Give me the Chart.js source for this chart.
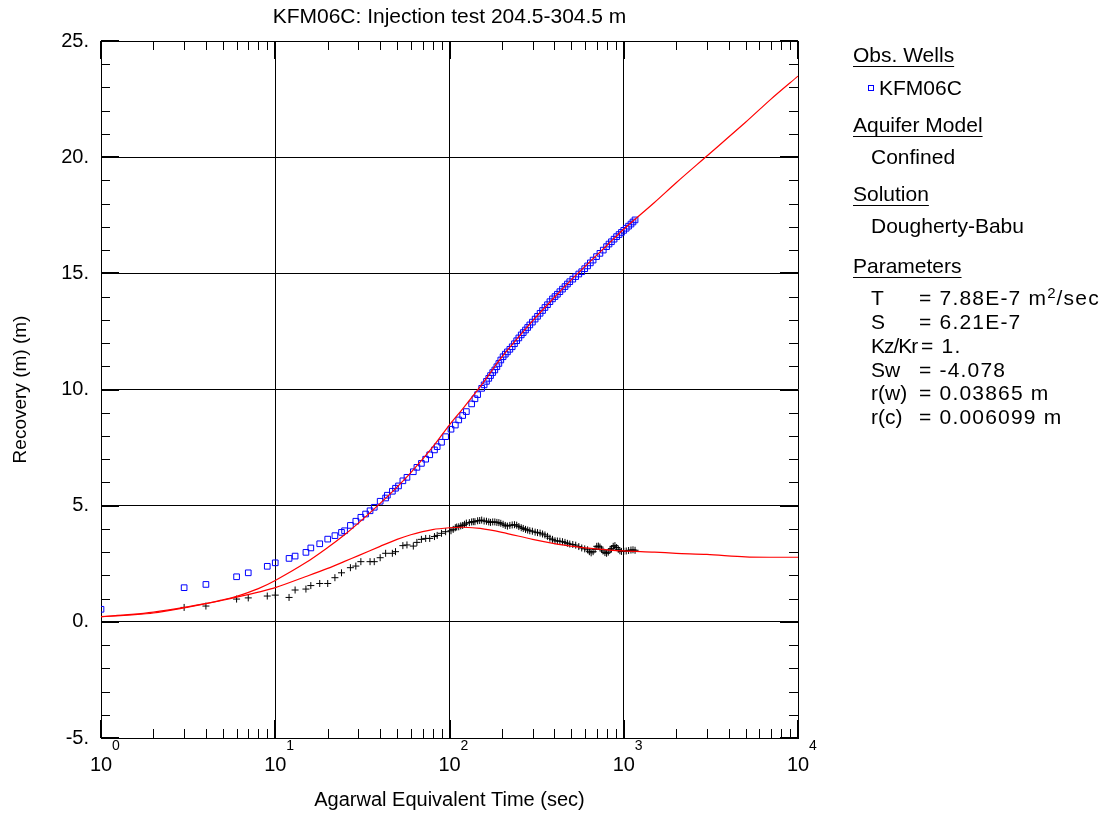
<!DOCTYPE html>
<html>
<head>
<meta charset="utf-8">
<script src="https://cdn.jsdelivr.net/npm/chart.js@4/dist/chart.umd.min.js"></script>
<style>
  body { margin: 0; background: #fff; }
  #wrap { position: relative; width: 1106px; height: 813px; }
  #legende { position: absolute; left: 853px; top: 0; width: 253px; height: 440px;
             font-family: "Liberation Sans", Arial, sans-serif; font-size: 21px; color: #000; }
  #legende div { position: absolute; line-height: 20px; white-space: nowrap; }
  #legende .val { left: 66px; letter-spacing: 1.2px; }
  .cab { text-decoration: underline; text-underline-offset: 4px; text-decoration-thickness: 1px; }
  .quad { display: inline-block; width: 4px; height: 4px; border: 1px solid #0000ff; margin-right: 5px; vertical-align: 4px; }
  sup { font-size: 15px; vertical-align: 7px; line-height: 0; letter-spacing: 0; margin-right: 1px; }
</style>
</head>
<body>
<div id="wrap">
  <canvas id="grafico" width="1106" height="813"></canvas>
  <div id="legende">
    <div class="cab" style="left:0; top:45px">Obs. Wells</div>
    <div style="left:15px; top:78px"><span class="quad"></span>KFM06C</div>
    <div class="cab" style="left:0; top:115px">Aquifer Model</div>
    <div style="left:18px; top:147px">Confined</div>
    <div class="cab" style="left:0; top:184px">Solution</div>
    <div style="left:18px; top:216px">Dougherty-Babu</div>
    <div class="cab" style="left:0; top:256px">Parameters</div>
    <div style="left:18px; top:288px">T</div><div class="val" style="top:288px">= 7.88E-7 m<sup>2</sup>/sec</div>
    <div style="left:18px; top:312px">S</div><div class="val" style="top:312px">= 6.21E-7</div>
    <div style="left:18px; top:336px; letter-spacing:-1px">Kz/Kr</div><div class="val" style="top:336px; left:68px">= 1.</div>
    <div style="left:18px; top:360px">Sw</div><div class="val" style="top:360px">= -4.078</div>
    <div style="left:18px; top:383px">r(w)</div><div class="val" style="top:383px">= 0.03865 m</div>
    <div style="left:18px; top:407px">r(c)</div><div class="val" style="top:407px">= 0.006099 m</div>
  </div>
</div>
<script>
// recuperação observada (quadrados azuis)
const tempoObs = [1, 3, 4, 6, 7, 9, 10, 12, 13, 15, 16, 18, 20, 22, 24, 25, 27, 29, 31, 33, 35, 37,
  40, 43, 44, 47, 49, 51, 54, 57, 62, 65, 69, 73, 77, 82, 85, 90, 95, 102, 108, 113, 119, 125,
  134, 140, 145, 153, 158, 163, 168, 172, 177, 182, 187, 192, 197, 203, 209, 215, 222, 229, 236,
  243, 250, 258, 265, 273, 281, 289, 299, 310, 320, 331, 342, 353, 365, 377, 390, 403, 416, 430,
  445, 460, 475, 490, 510, 530, 552, 574, 597, 620, 643, 667, 698, 730, 763, 797, 823, 850, 880,
  910, 940, 970, 1000, 1033, 1066, 1100, 1130, 1161];
const recuperacao = [0.54, 1.47, 1.61, 1.94, 2.11, 2.39, 2.54, 2.73, 2.83, 2.99, 3.18, 3.36, 3.56, 3.71,
  3.85, 3.92, 4.15, 4.33, 4.50, 4.64, 4.78, 4.93, 5.19, 5.33, 5.45, 5.62, 5.75, 5.85, 6.07, 6.22,
  6.46, 6.65, 6.82, 7.00, 7.19, 7.40, 7.54, 7.73, 7.97, 8.29, 8.47, 8.69, 8.88, 9.05, 9.38, 9.60,
  9.78, 10.05, 10.20, 10.35, 10.48, 10.60, 10.73, 10.84, 10.98, 11.12, 11.27, 11.41, 11.52, 11.62,
  11.73, 11.84, 11.97, 12.10, 12.22, 12.35, 12.45, 12.56, 12.67, 12.78, 12.90, 13.03, 13.15, 13.28,
  13.40, 13.53, 13.65, 13.78, 13.90, 14.00, 14.10, 14.21, 14.32, 14.43, 14.54, 14.64, 14.75, 14.86,
  14.97, 15.07, 15.20, 15.32, 15.45, 15.57, 15.72, 15.86, 16.00, 16.15, 16.26, 16.36, 16.47, 16.58,
  16.67, 16.76, 16.85, 16.94, 17.03, 17.12, 17.21, 17.30];

// derivada observada (cruzes pretas)
const tempoDeriv = [3, 4, 6, 7, 9, 10, 12, 13, 15, 16, 18, 20, 22, 24, 27, 29, 31, 35, 37, 40, 43, 47,
  49, 54, 57, 62, 65, 69, 73, 77, 82, 85, 90, 95, 102, 105, 108, 110, 113, 116, 119, 122, 125, 130,
  134, 137, 140, 145, 149, 153, 158, 163, 168, 172, 177, 182, 187, 192, 197, 203, 209, 215, 222,
  229, 236, 243, 250, 258, 265, 273, 281, 289, 299, 310, 320, 331, 342, 353, 365, 377, 390, 403,
  416, 430, 445, 460, 475, 490, 510, 530, 552, 574, 597, 620, 635, 650, 667, 685, 700, 715, 730,
  745, 760, 780, 797, 815, 835, 850, 870, 890, 910, 930, 950, 970, 1000, 1033, 1066, 1100, 1130, 1161];
const derivada = [0.62, 0.68, 0.98, 1.03, 1.11, 1.15, 1.05, 1.37, 1.41, 1.56, 1.65, 1.65, 1.90, 2.11,
  2.33, 2.40, 2.59, 2.59, 2.59, 2.76, 2.95, 2.95, 3.02, 3.28, 3.31, 3.26, 3.42, 3.55, 3.59, 3.59,
  3.67, 3.72, 3.81, 3.88, 3.92, 3.98, 4.05, 4.08, 4.09, 4.13, 4.15, 4.20, 4.25, 4.27, 4.30, 4.31,
  4.31, 4.35, 4.36, 4.38, 4.34, 4.33, 4.30, 4.28, 4.30, 4.30, 4.28, 4.27, 4.24, 4.20, 4.15, 4.12,
  4.15, 4.17, 4.18, 4.16, 4.10, 4.05, 4.02, 3.98, 3.95, 3.92, 3.90, 3.86, 3.84, 3.82, 3.78, 3.74,
  3.68, 3.60, 3.55, 3.49, 3.48, 3.47, 3.45, 3.42, 3.38, 3.35, 3.33, 3.30, 3.24, 3.18, 3.14, 3.10,
  3.02, 2.97, 3.02, 3.12, 3.25, 3.26, 3.22, 3.12, 3.05, 2.98, 2.95, 3.00, 3.10, 3.15, 3.25, 3.28,
  3.20, 3.12, 3.06, 3.03, 3.04, 3.05, 3.07, 3.09, 3.10, 3.08];

// curvas do modelo Dougherty-Babu (linhas vermelhas)
const tempoModelo = [1, 1.5, 2, 3, 4, 5, 6, 8, 10, 15, 20, 25, 30, 40, 50, 60, 80, 100, 120, 150, 200,
  300, 400, 500, 600, 800, 1000, 1500, 2000, 3000, 5000, 7000, 10000];
const modeloRecuperacao = [0.22, 0.30, 0.38, 0.60, 0.78, 0.95, 1.10, 1.43, 1.78, 2.55, 3.20, 3.75,
  4.25, 5.10, 5.80, 6.42, 7.52, 8.48, 9.20, 10.12, 11.40, 12.95, 13.97, 14.72, 15.30, 16.20, 16.90,
  18.05, 18.90, 20.05, 21.50, 22.50, 23.49];
const modeloDerivada = [0.22, 0.32, 0.42, 0.62, 0.79, 0.93, 1.06, 1.28, 1.47, 1.95, 2.30, 2.60,
  2.85, 3.25, 3.55, 3.75, 3.97, 4.05, 4.07, 4.02, 3.85, 3.55, 3.37, 3.26, 3.18, 3.10, 3.05, 3.00,
  2.95, 2.90, 2.80, 2.78, 2.78];

const xTicks = [1, 10, 100, 1000, 10000];
const xExpoentes = ['0', '1', '2', '3', '4'];
const yTicks = [-5, 0, 5, 10, 15, 20, 25];
const titulo = 'KFM06C: Injection test 204.5-304.5 m';

const fonte = '"Liberation Sans", Arial, sans-serif';
const pares = (xs, ys) => xs.map((t, i) => ({ x: t, y: ys[i] }));

const extras = {
    id: 'extras',
    afterDraw(chart) {
        const { ctx, chartArea: a, scales: { x, y } } = chart;
        const linha = (x1, y1, x2, y2) => { ctx.beginPath(); ctx.moveTo(x1, y1); ctx.lineTo(x2, y2); ctx.stroke(); };
        ctx.save();
        ctx.strokeStyle = '#000';
        ctx.lineWidth = 1;
        // ticks menores no eixo x (embaixo e em cima)
        for (let d = 0; d < 4; d++) {
            for (let k = 2; k <= 9; k++) {
                const px = Math.round(x.getPixelForValue(k * Math.pow(10, d))) + 0.5;
                linha(px, a.bottom, px, a.bottom - 9);
                linha(px, a.top, px, a.top + 9);
            }
        }
        // ticks menores no eixo y
        for (let v = -5; v <= 25; v++) {
            if (v % 5 === 0) continue;
            const py = Math.round(y.getPixelForValue(v)) + 0.5;
            linha(a.left, py, a.left + 9, py);
            linha(a.right, py, a.right - 9, py);
        }
        // ticks maiores, mais grossos
        ctx.lineWidth = 2;
        xTicks.forEach(v => {
            const px = Math.round(x.getPixelForValue(v));
            linha(px, a.bottom, px, a.bottom - 18);
            linha(px, a.top, px, a.top + 18);
        });
        yTicks.forEach(v => {
            const py = Math.round(y.getPixelForValue(v));
            linha(a.left, py, a.left + 18, py);
            linha(a.right, py, a.right - 18, py);
        });
        ctx.fillStyle = '#000';
        ctx.textBaseline = 'middle';
        // título centrado sobre a área do gráfico
        ctx.font = '21px ' + fonte;
        ctx.textAlign = 'center';
        ctx.fillText(titulo, (a.left + a.right) / 2, 17);
        // expoentes dos rótulos 10^n
        ctx.font = '14px ' + fonte;
        ctx.textAlign = 'left';
        xTicks.forEach((v, i) => {
            ctx.fillText(xExpoentes[i], x.getPixelForValue(v) + 11, a.bottom + 8);
        });
        ctx.restore();
    }
};

new Chart(document.getElementById('grafico'), {
    type: 'scatter',
    data: {
        datasets: [
            { data: pares(tempoModelo, modeloRecuperacao), showLine: true, borderColor: '#ff0000',
              borderWidth: 1.2, pointRadius: 0, tension: 0.3 },
            { data: pares(tempoModelo, modeloDerivada), showLine: true, borderColor: '#ff0000',
              borderWidth: 1.2, pointRadius: 0, tension: 0.3 },
            { data: pares(tempoObs, recuperacao), pointStyle: 'rect', pointRadius: 4,
              borderColor: '#0000ff', backgroundColor: 'rgba(0,0,0,0)', borderWidth: 1 },
            { data: pares(tempoDeriv, derivada), pointStyle: 'cross', pointRadius: 3.5,
              borderColor: '#000', borderWidth: 1 }
        ]
    },
    options: {
        responsive: false,
        animation: false,
        devicePixelRatio: 1,
        layout: { padding: { left: 0, right: 308, top: 41, bottom: 0 } },
        plugins: {
            legend: { display: false },
            tooltip: { enabled: false }
        },
        scales: {
            x: {
                type: 'logarithmic',
                min: 1, max: 10000,
                afterBuildTicks: s => { s.ticks = xTicks.map(v => ({ value: v })); },
                afterFit: s => { s.height = 75; },
                ticks: { callback: () => '10', color: '#000', font: { family: fonte, size: 20 },
                         padding: 15, maxRotation: 0, autoSkip: false },
                grid: { color: '#000', lineWidth: 1, drawTicks: false },
                border: { color: '#000' },
                title: { display: true, text: 'Agarwal Equivalent Time (sec)', color: '#000',
                         font: { family: fonte, size: 20 }, padding: { top: 0, bottom: 1 } }
            },
            y: {
                min: -5, max: 25,
                afterBuildTicks: s => { s.ticks = yTicks.map(v => ({ value: v })); },
                afterFit: s => { s.width = 101; },
                ticks: { callback: v => v + '.', color: '#000', font: { family: fonte, size: 20 }, padding: 12 },
                grid: { color: '#000', lineWidth: 1, drawTicks: false },
                border: { color: '#000' },
                title: { display: true, text: 'Recovery (m) (m)', color: '#000',
                         font: { family: fonte, size: 19 }, padding: { top: 9, bottom: 0 } }
            }
        }
    },
    plugins: [extras]
});
</script>
</body>
</html>
